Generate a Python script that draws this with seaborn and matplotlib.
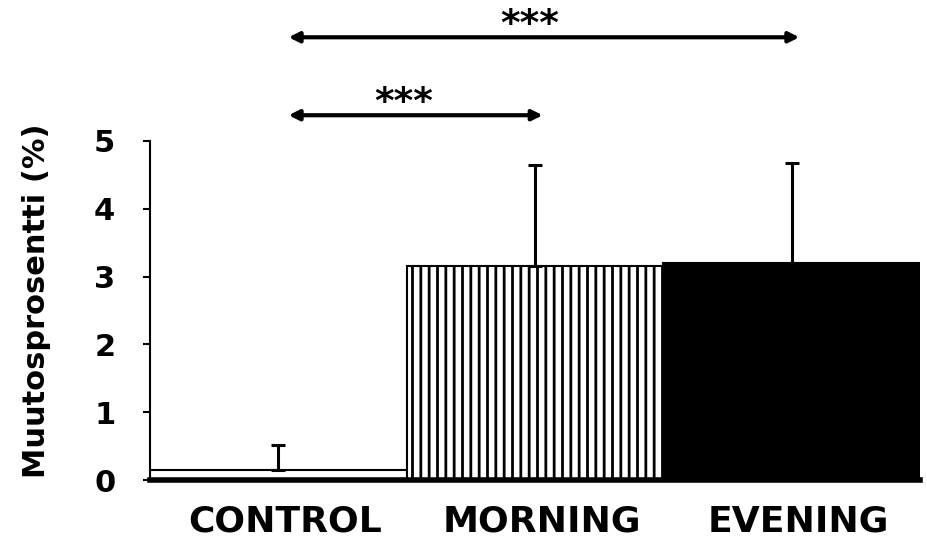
import matplotlib
matplotlib.use("Agg")
import matplotlib.pyplot as plt
import seaborn as sns
import pandas as pd
from matplotlib.ticker import FixedLocator

# Group means and upper standard deviations (percent change)
groups = ["CONTROL", "MORNING", "EVENING"]
means = [0.15, 3.16, 3.20]
sd_upper = [0.37, 1.49, 1.48]
bar_colors = ["white", "white", "black"]
bar_hatches = ["", "||", ""]

# Significance brackets: (start group, end group, label)
comparisons = [(0, 2, "***"), (0, 1, "***")]

sns.set_theme(style="white")
plt.rcParams["font.family"] = ["DejaVu Sans"]
plt.rcParams["font.weight"] = "bold"
plt.rcParams["text.color"] = "black"
plt.rcParams["axes.labelcolor"] = "black"
plt.rcParams["xtick.color"] = "black"
plt.rcParams["ytick.color"] = "black"
plt.rcParams["hatch.linewidth"] = 2.0
plt.rcParams["hatch.color"] = "black"

df = pd.DataFrame({"group": groups, "mean": means})

fig = plt.figure(figsize=(9.27, 5.42), dpi=100)
ax = fig.add_axes([150 / 927, 1 - 480 / 542, 770 / 927, 339 / 542])

sns.barplot(data=df, x="group", y="mean", hue="group", palette=bar_colors,
            width=1.0, edgecolor="black", linewidth=1.5, legend=False,
            errorbar=None, ax=ax)

for patch, h in zip(ax.patches, bar_hatches):
    if h:
        patch.set_hatch(h)

# One-sided (upper) error bars
ax.errorbar(range(len(groups)), means, yerr=[[0] * len(groups), sd_upper],
            fmt="none", ecolor="black", elinewidth=2.2, capsize=5, capthick=2.2)

ax.set_xlim(-0.5, 2.5)
ax.set_ylim(0, 5)
ax.set_yticks(range(0, 6))
ax.set_yticklabels([str(v) for v in range(0, 6)], fontsize=22, fontweight="bold",
                   color="black")
# category labels sit a touch right of the bar centres
ax.set_xticks([i + 0.025 for i in range(len(groups))])
ax.set_xticklabels(groups, fontsize=26, fontweight="bold", color="black")
ax.xaxis.set_minor_locator(FixedLocator([-0.5, 0.5, 1.5, 2.5]))
ax.tick_params(axis="x", which="major", length=0, pad=18)
ax.tick_params(axis="x", which="minor", length=4, width=1.5, color="black", direction="out")
ax.tick_params(axis="y", length=5, width=1.5, color="black", direction="out", pad=20, left=True)
ax.set_xlabel("")
ax.set_ylabel("Muutosprosentti (%)", fontsize=22, fontweight="bold", color="black")
ax.yaxis.set_label_coords(-0.128, 0.53)

for side in ["top", "right"]:
    ax.spines[side].set_visible(False)
ax.spines["left"].set_color("black")
ax.spines["left"].set_linewidth(1.5)
ax.spines["bottom"].set_color("black")
ax.spines["bottom"].set_linewidth(4)

# Significance arrows above the bars
arrow_y = {(0, 2): 6.53, (0, 1): 5.38}
star_x = {(0, 2): 0.98, (0, 1): 0.49}
for start, end, label in comparisons:
    y = arrow_y[(start, end)]
    ax.annotate("", xy=(end + 0.03, y), xytext=(start + 0.04, y),
                arrowprops=dict(arrowstyle="<|-|>", lw=3.0, color="black",
                                mutation_scale=15, shrinkA=0, shrinkB=0),
                annotation_clip=False)
    ax.text(star_x[(start, end)], y + 0.04, label, ha="center", va="baseline",
            fontsize=27, fontweight="bold", color="black", clip_on=False)

fig.savefig("out.png", dpi=100, facecolor="white")
